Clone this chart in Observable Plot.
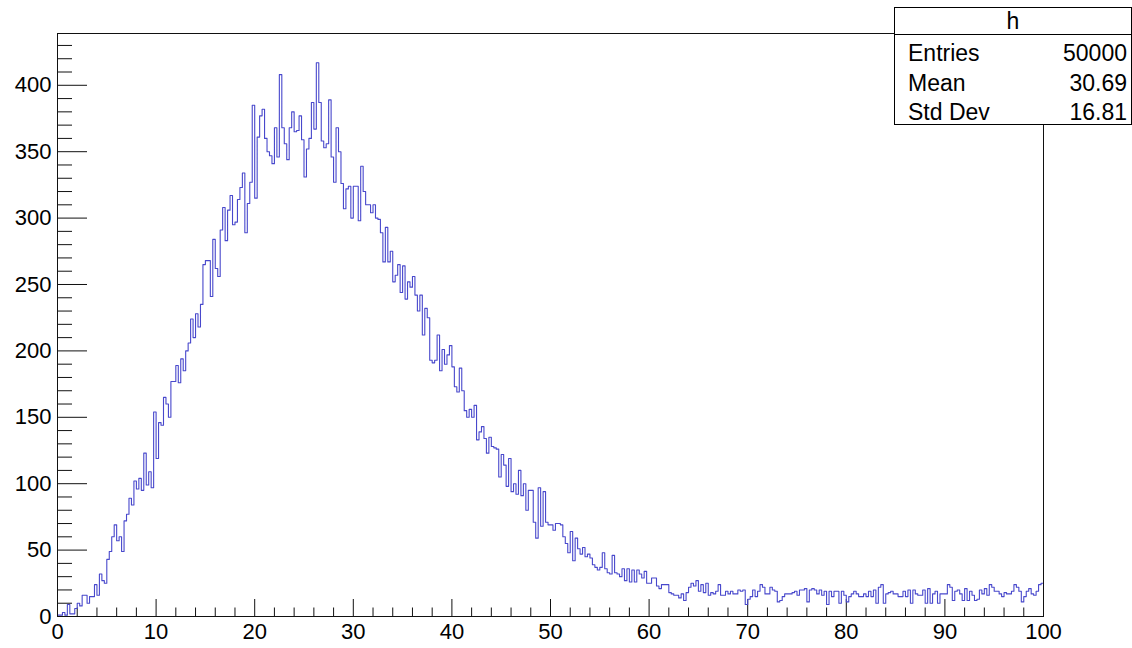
<!DOCTYPE html>
<html>
<head>
<meta charset="utf-8">
<script src="https://cdn.jsdelivr.net/npm/d3@7"></script>
<script src="https://cdn.jsdelivr.net/npm/@observablehq/plot@0.6"></script>
<style>
  html, body { margin: 0; padding: 0; background: #fff; }
  #wrap { position: relative; width: 1132px; height: 648px; font-family: "Liberation Sans", Arial, Helvetica, sans-serif; }
  #stats { position: absolute; left: 894px; top: 7px; width: 238px; height: 118px; box-sizing: border-box;
           border: 1px solid #000; background: #fff; font-size: 23px; color: #000; }
  #stats .name { position: absolute; left: 0; right: 0; top: 0; height: 26px; border-bottom: 1px solid #000; text-align: center; line-height: 27px; }
  #stats .row { position: absolute; left: 13px; right: 4px; height: 24px; line-height: 24px; }
  #stats .row span:last-child { position: absolute; right: 0; }
</style>
</head>
<body>
<div id="wrap"></div>
<script>
// ---- data ----
const xMin = 0, xMax = 100;
const counts = [
  1,1,3,1,9,2,2,6,10,8,
  16,16,10,15,15,24,16,32,27,25,
  43,49,60,69,57,60,49,72,77,89,
  84,102,96,104,95,123,99,109,97,154,
  119,146,144,165,160,150,177,177,189,176,
  194,185,200,206,224,210,228,218,235,265,
  268,268,241,284,262,256,291,308,283,306,
  317,295,297,314,323,334,289,311,327,385,
  315,361,377,382,360,350,347,341,368,346,
  408,368,356,344,368,380,365,366,377,359,
  331,352,360,387,367,417,387,358,353,356,
  389,346,327,368,350,326,307,322,324,300,
  324,324,298,339,320,310,310,304,310,300,
  299,289,267,293,267,275,252,257,265,244,
  264,239,252,248,256,242,230,242,212,232,
  225,193,191,193,212,185,201,190,197,204,
  188,173,169,187,170,155,150,156,150,159,
  133,139,143,134,123,135,128,127,126,105,
  122,114,98,119,94,100,92,110,91,100,
  80,95,95,71,59,97,68,94,71,69,
  69,65,70,70,69,60,55,48,64,42,
  59,51,47,52,45,47,44,39,37,35,
  37,48,36,33,32,46,33,32,30,36,
  27,36,26,35,26,35,32,29,34,25,
  25,29,29,23,21,24,24,24,18,17,
  16,16,14,17,12,18,22,25,23,27,
  19,24,18,25,16,18,17,19,24,16,
  16,19,17,19,17,17,20,19,20,9,
  13,15,20,15,19,24,22,17,17,22,
  20,19,11,12,15,17,17,17,18,19,
  16,20,20,21,11,20,21,20,17,20,
  16,19,9,19,15,19,19,10,19,16,
  11,15,17,19,17,15,15,17,15,19,
  15,20,10,22,24,10,17,18,19,17,
  17,15,15,19,15,20,10,20,17,16,
  16,20,10,21,10,17,19,10,17,17,
  17,24,22,12,19,20,17,12,21,12,
  19,16,12,13,20,17,21,16,24,22,
  19,19,17,15,18,17,17,19,24,22,
  19,11,15,19,21,17,16,19,24,25
];
const yMax = 439;
const xMajorTicks = [0,10,20,30,40,50,60,70,80,90,100];
const xMinorTicks = [2,4,6,8,12,14,16,18,22,24,26,28,32,34,36,38,42,44,46,48,52,54,56,58,62,64,66,68,72,74,76,78,82,84,86,88,92,94,96,98];
const yMajorTicks = [0,50,100,150,200,250,300,350,400];
const yMinorTicks = [10,20,30,40,60,70,80,90,110,120,130,140,160,170,180,190,210,220,230,240,260,270,280,290,310,320,330,340,360,370,380,390,410,420,430];
const statName = "h";
const statLabels = ["Entries", "Mean", "Std Dev"];
const statValues = ["50000", "30.69", "16.81"];

// ---- build ----
const W = 1132, H = 648;
const mL = 57, mR = 89, mT = 33, mB = 32;
const frameW = W - mL - mR, frameH = H - mT - mB;
const binW = (xMax - xMin) / counts.length;
const pts = counts.map((v, i) => ({x: xMin + i * binW, y: v}));
pts.push({x: xMax, y: counts[counts.length - 1]});

const lineColor = "#4848cc";
const axisColor = "#111";

const chart = Plot.plot({
  width: W, height: H,
  marginLeft: mL, marginRight: mR, marginTop: mT, marginBottom: mB,
  style: {fontFamily: "'Liberation Sans', Arial, Helvetica, sans-serif", fontSize: "22px", color: "#000", background: "#fff"},
  x: {domain: [xMin, xMax], axis: null, label: null},
  y: {domain: [0, yMax], axis: null, label: null},
  marks: [
    Plot.tickX(xMajorTicks, {x: d => d, stroke: axisColor, insetTop: frameH - 17}),
    Plot.tickX(xMinorTicks, {x: d => d, stroke: axisColor, insetTop: frameH - 8.5}),
    Plot.tickY(yMajorTicks, {y: d => d, stroke: axisColor, insetRight: frameW - 30}),
    Plot.tickY(yMinorTicks, {y: d => d, stroke: axisColor, insetRight: frameW - 15}),
    Plot.line(pts, {x: "x", y: "y", curve: "step-after", stroke: lineColor, strokeWidth: 1.1}),
    Plot.frame({stroke: axisColor}),
    Plot.axisX(xMajorTicks, {tickSize: 0, tickPadding: 7, fontSize: 22, label: null, tickFormat: d => String(d)}),
    Plot.axisY(yMajorTicks, {tickSize: 0, tickPadding: 6, fontSize: 22, label: null, tickFormat: d => String(d)})
  ]
});

const wrap = document.getElementById("wrap");
wrap.appendChild(chart);

// stats box
const box = document.createElement("div");
box.id = "stats";
const nm = document.createElement("div");
nm.className = "name";
nm.textContent = statName;
box.appendChild(nm);
statLabels.forEach((lab, i) => {
  const r = document.createElement("div");
  r.className = "row";
  r.style.top = (33 + i * 29.5) + "px";
  const a = document.createElement("span"); a.textContent = lab;
  const b = document.createElement("span"); b.textContent = statValues[i];
  r.appendChild(a); r.appendChild(b);
  box.appendChild(r);
});
wrap.appendChild(box);
</script>
</body>
</html>
